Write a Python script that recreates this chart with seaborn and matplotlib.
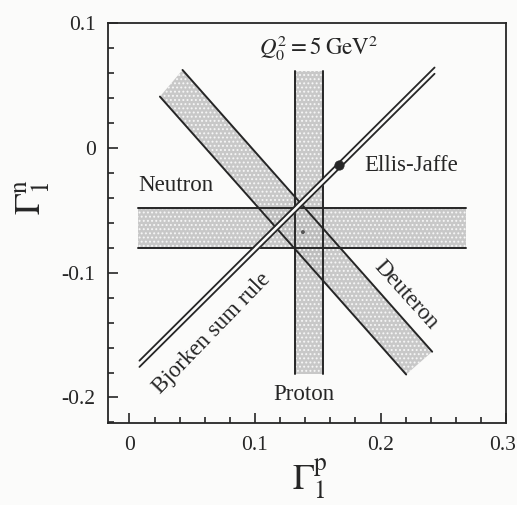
import numpy as np
import pandas as pd
import matplotlib
matplotlib.use("Agg")
import matplotlib.pyplot as plt
from matplotlib.ticker import MultipleLocator, FixedLocator, FixedFormatter
from matplotlib.transforms import ScaledTranslation
import seaborn as sns

# ---- data -------------------------------------------------------------
# Proton measurement: allowed Gamma_1^p range (vertical band) and its drawn extent
proton_gp = [0.132, 0.154]
proton_gn_span = [-0.181, 0.062]

# Neutron measurement: allowed Gamma_1^n range (horizontal band) and its drawn extent
neutron_gn = [-0.080, -0.048]
neutron_gp_span = [0.007, 0.268]

# Deuteron measurement: edges Gamma_1^n = c - s * Gamma_1^p
deuteron_slope = 1.136
deuteron_intercepts = [0.1106, 0.0688]            # upper edge, lower edge
deuteron_gp_spans = [[0.0423, 0.2411], [0.0243, 0.2204]]

# Bjorken sum rule: Gamma_1^p - Gamma_1^n, drawn as a double line
bjorken_diff = [0.1785, 0.1835]
bjorken_gp_span = [0.008, 0.243]

# Ellis-Jaffe prediction and the combined data point
ellis_jaffe_gp, ellis_jaffe_gn = [0.1668], [-0.0139]
combined_gp, combined_gn = [0.1382], [-0.0674]

x_ticks = [0.0, 0.1, 0.2, 0.3]
x_tick_labels = ["0", "0.1", "0.2", "0.3"]
y_ticks = [-0.2, -0.1, 0.0, 0.1]
y_tick_labels = ["-0.2", "-0.1", "0", "0.1"]

# ---- style ------------------------------------------------------------
sns.set_theme(style="ticks")
plt.rcParams["font.family"] = ["Liberation Serif", "DejaVu Serif"]
plt.rcParams["mathtext.fontset"] = "stix"
plt.rcParams["hatch.color"] = "#555555"
plt.rcParams["hatch.linewidth"] = 0.9

INK = "#262626"
BAND = "#bcbcbc"
BG = "#fbfbfa"

fig = plt.figure(figsize=(5.17, 5.05), dpi=100, facecolor=BG)
ax = fig.add_axes([0.209, 0.162, 0.770, 0.792], facecolor=BG)

# ---- bands ------------------------------------------------------------
band_kw = dict(facecolor=BAND, alpha=0.8, hatch="....", linewidth=0, zorder=1)
ax.fill_betweenx(proton_gn_span, proton_gp[0], proton_gp[1], **band_kw)
ax.fill_between(neutron_gp_span, neutron_gn[0], neutron_gn[1], **band_kw)

d_up = np.array(deuteron_gp_spans[0])
d_lo = np.array(deuteron_gp_spans[1])
poly_x = np.concatenate([d_up, d_lo[::-1]])
poly_y = np.concatenate([deuteron_intercepts[0] - deuteron_slope * d_up,
                         deuteron_intercepts[1] - deuteron_slope * d_lo[::-1]])
ax.fill(poly_x, poly_y, **band_kw)

# band edges
rows = []
for i, gp in enumerate(proton_gp):
    for gn in proton_gn_span:
        rows.append(("p%d" % i, gp, gn))
for i, gn in enumerate(neutron_gn):
    for gp in neutron_gp_span:
        rows.append(("n%d" % i, gp, gn))
for i, (c, span) in enumerate(zip(deuteron_intercepts, deuteron_gp_spans)):
    for gp in span:
        rows.append(("d%d" % i, gp, c - deuteron_slope * gp))
edges = pd.DataFrame(rows, columns=["seg", "gp", "gn"])
sns.lineplot(data=edges, x="gp", y="gn", units="seg", estimator=None,
             sort=False, color=INK, lw=1.4, ax=ax, zorder=2)

# Bjorken double line with a clear strip between the rails
bj_x = np.array(bjorken_gp_span)
ax.fill_between(bj_x, bj_x - bjorken_diff[1], bj_x - bjorken_diff[0],
                color=BG, linewidth=0, zorder=3)
bj_rows = []
for i, d in enumerate(bjorken_diff):
    for gp in bjorken_gp_span:
        bj_rows.append(("b%d" % i, gp, gp - d))
bj = pd.DataFrame(bj_rows, columns=["seg", "gp", "gn"])
sns.lineplot(data=bj, x="gp", y="gn", units="seg", estimator=None,
             sort=False, color=INK, lw=1.3, ax=ax, zorder=4)

# points
sns.scatterplot(x=ellis_jaffe_gp, y=ellis_jaffe_gn, s=45, color=INK,
                edgecolor=INK, ax=ax, zorder=5)
sns.scatterplot(x=combined_gp, y=combined_gn, s=8, color="#555555",
                edgecolor="none", ax=ax, zorder=5)

# ---- labels -----------------------------------------------------------
fs = 16.5
ax.text(0.007, -0.030, "Neutron", fontsize=fs, ha="left", va="center", color=INK)
ax.text(0.1388, -0.1975, "Proton", fontsize=fs, ha="center", va="center", color=INK)
ax.text(0.1873, -0.0139, "Ellis-Jaffe", fontsize=fs, ha="left", va="center", color=INK)
ax.text(0.2204, -0.118, "Deuteron", fontsize=fs, ha="center", va="center",
        rotation=-48, rotation_mode="anchor", color=INK)
ax.text(0.0656, -0.149, "Bjorken sum rule", fontsize=fs, ha="center", va="center",
        rotation=46, rotation_mode="anchor", color=INK)
ax.text(0.151, 0.080, r"$Q_0^2 = 5\;\mathrm{GeV}^2$", fontsize=fs,
        ha="center", va="center", color=INK)

# ---- axes -------------------------------------------------------------
ax.set_xlim(-0.017, 0.3)
ax.set_ylim(-0.2206, 0.1)
ax.xaxis.set_major_locator(FixedLocator(x_ticks))
ax.xaxis.set_major_formatter(FixedFormatter(x_tick_labels))
ax.yaxis.set_major_locator(FixedLocator(y_ticks))
ax.yaxis.set_major_formatter(FixedFormatter(y_tick_labels))
ax.xaxis.set_minor_locator(MultipleLocator(0.02))
ax.yaxis.set_minor_locator(MultipleLocator(0.02))
ax.tick_params(which="both", direction="in", color=INK, width=1.2,
               top=False, right=False, labelsize=15.5, labelcolor=INK)
ax.tick_params(which="major", length=7.5, pad=9)
ax.tick_params(which="minor", length=4)
for sp in ax.spines.values():
    sp.set_visible(True)
    sp.set_color(INK)
    sp.set_linewidth(1.3)

ax.set_xlabel(r"$\Gamma_1^{\mathrm{p}}$", fontsize=26, color=INK)
ax.set_ylabel(r"$\Gamma_1^{\mathrm{n}}$", fontsize=26, color=INK, rotation=90)
ax.xaxis.set_label_coords(0.508, -0.1375)
ax.xaxis.label.set_va("center")
ax.yaxis.set_label_coords(-0.19, 0.565)
ax.yaxis.label.set_va("center")

# keep the last x tick label inside the canvas
fig.canvas.draw()
last = ax.xaxis.get_major_ticks()[-1].label1
last.set_transform(last.get_transform() + ScaledTranslation(-4 / 100, 0, fig.dpi_scale_trans))

fig.savefig("out.png", dpi=100, facecolor=BG)
